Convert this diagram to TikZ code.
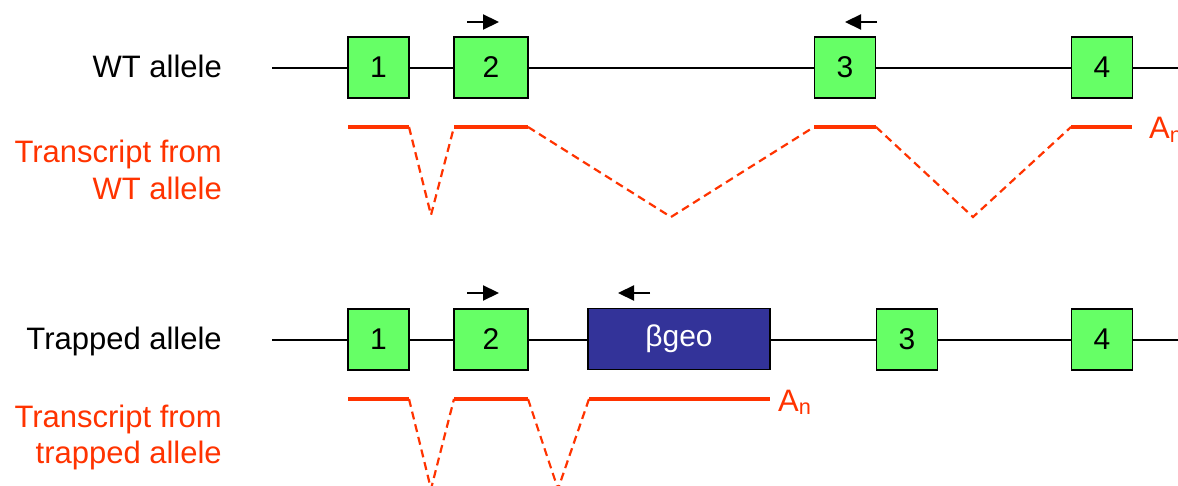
\documentclass[tikz,border=0pt]{standalone}
\usepackage{fontspec}
\setmainfont{Liberation Sans}
\usetikzlibrary{arrows.meta}
\definecolor{exongreen}{HTML}{66FF66}
\definecolor{trred}{HTML}{FF3300}
\definecolor{geoblue}{HTML}{333399}
\begin{document}
\begin{tikzpicture}[x=1pt,y=-1pt,
  gene/.style={draw=black, line width=1.8pt},
  exon/.style={draw=black, line width=1.8pt, fill=exongreen, minimum width=61pt, minimum height=61pt, inner sep=0pt, font=\fontsize{30}{36}\selectfont},
  geobox/.style={draw=black, line width=1.8pt, fill=geoblue, text=white, minimum width=182pt, minimum height=61pt, inner sep=0pt, font=\fontsize{30}{36}\selectfont},
  primer/.style={draw=black, line width=2.2pt, -{Triangle[length=16pt,width=15pt]}},
  trsolid/.style={draw=trred, line width=3.8pt},
  trdash/.style={draw=trred, line width=2.2pt, dash pattern=on 8pt off 5pt},
  lbl/.style={anchor=base east, inner sep=0pt, font=\fontsize{31}{37}\selectfont},
  rlbl/.style={lbl, text=trred},
  poly/.style={anchor=base west, inner sep=0pt, text=trred, font=\fontsize{31}{36}\selectfont}]
\useasboundingbox (0,0) rectangle (1178,486);

% ---------- WT allele ----------
\coordinate (wl) at (272,68);
\coordinate (wr) at (1180,68);
\draw[gene] (wl) -- (wr);
\node[exon] (w1) at (378.5,67.5) {1};
\node[exon, minimum width=74pt] (w2) at (491,67.5) {2};
\node[exon] (w3) at (845,67.5) {3};
\node[exon] (w4) at (1102,67.5) {4};
\node[lbl] (wlab) at (222,78) {WT allele};

\coordinate (pa1) at (467,22); \coordinate (pa2) at (499,22);
\draw[primer] (pa1) -- (pa2);
\coordinate (pb1) at (877,22); \coordinate (pb2) at (845,22);
\draw[primer] (pb1) -- (pb2);

% WT transcript
\coordinate (t1a) at (348,127); \coordinate (t1b) at (409,127);
\coordinate (t2a) at (454,127); \coordinate (t2b) at (528,127);
\coordinate (t3a) at (814,127); \coordinate (t3b) at (876,127);
\coordinate (t4a) at (1071,127); \coordinate (t4b) at (1132,127);
\coordinate (v1) at (431,215); \coordinate (v2) at (671,217); \coordinate (v3) at (973,217);
\draw[trsolid] (t1a) -- (t1b);
\draw[trsolid] (t2a) -- (t2b);
\draw[trsolid] (t3a) -- (t3b);
\draw[trsolid] (t4a) -- (t4b);
\draw[trdash] (t1b) -- (v1) -- (t2a);
\draw[trdash] (t2b) -- (v2) -- (t3a);
\draw[trdash] (t3b) -- (v3) -- (t4a);
\node[poly] (wpoly) at (1149,139) {A\textsubscript{n}};
\node[rlbl] (wtr1) at (222,163) {Transcript from};
\node[rlbl] (wtr2) at (222,200) {WT allele};

% ---------- Trapped allele ----------
\coordinate (ml) at (272,340);
\coordinate (mr) at (1180,340);
\draw[gene] (ml) -- (mr);
\node[exon] (m1) at (378.5,339.5) {1};
\node[exon, minimum width=74pt] (m2) at (491,339.5) {2};
\node[geobox] (geo) at (679,339) {βgeo};
\node[exon] (m3) at (907,339.5) {3};
\node[exon] (m4) at (1102,339.5) {4};
\node[lbl] (mlab) at (222,349) {Trapped allele};

\coordinate (pc1) at (467,293); \coordinate (pc2) at (499,293);
\draw[primer] (pc1) -- (pc2);
\coordinate (pd1) at (650,293); \coordinate (pd2) at (618,293);
\draw[primer] (pd1) -- (pd2);

% trapped transcript
\coordinate (s1a) at (348,399); \coordinate (s1b) at (409,399);
\coordinate (s2a) at (454,399); \coordinate (s2b) at (528,399);
\coordinate (s3a) at (589,399); \coordinate (s3b) at (770,399);
\coordinate (u1) at (431,489); \coordinate (u2) at (558,489);
\draw[trsolid] (s1a) -- (s1b);
\draw[trsolid] (s2a) -- (s2b);
\draw[trsolid] (s3a) -- (s3b);
\draw[trdash] (s1b) -- (u1) -- (s2a);
\draw[trdash] (s2b) -- (u2) -- (s3a);
\node[poly] (mpoly) at (778,411) {A\textsubscript{n}};
\node[rlbl] (mtr1) at (222,427) {Transcript from};
\node[rlbl] (mtr2) at (222,463) {trapped allele};
\end{tikzpicture}
\end{document}
